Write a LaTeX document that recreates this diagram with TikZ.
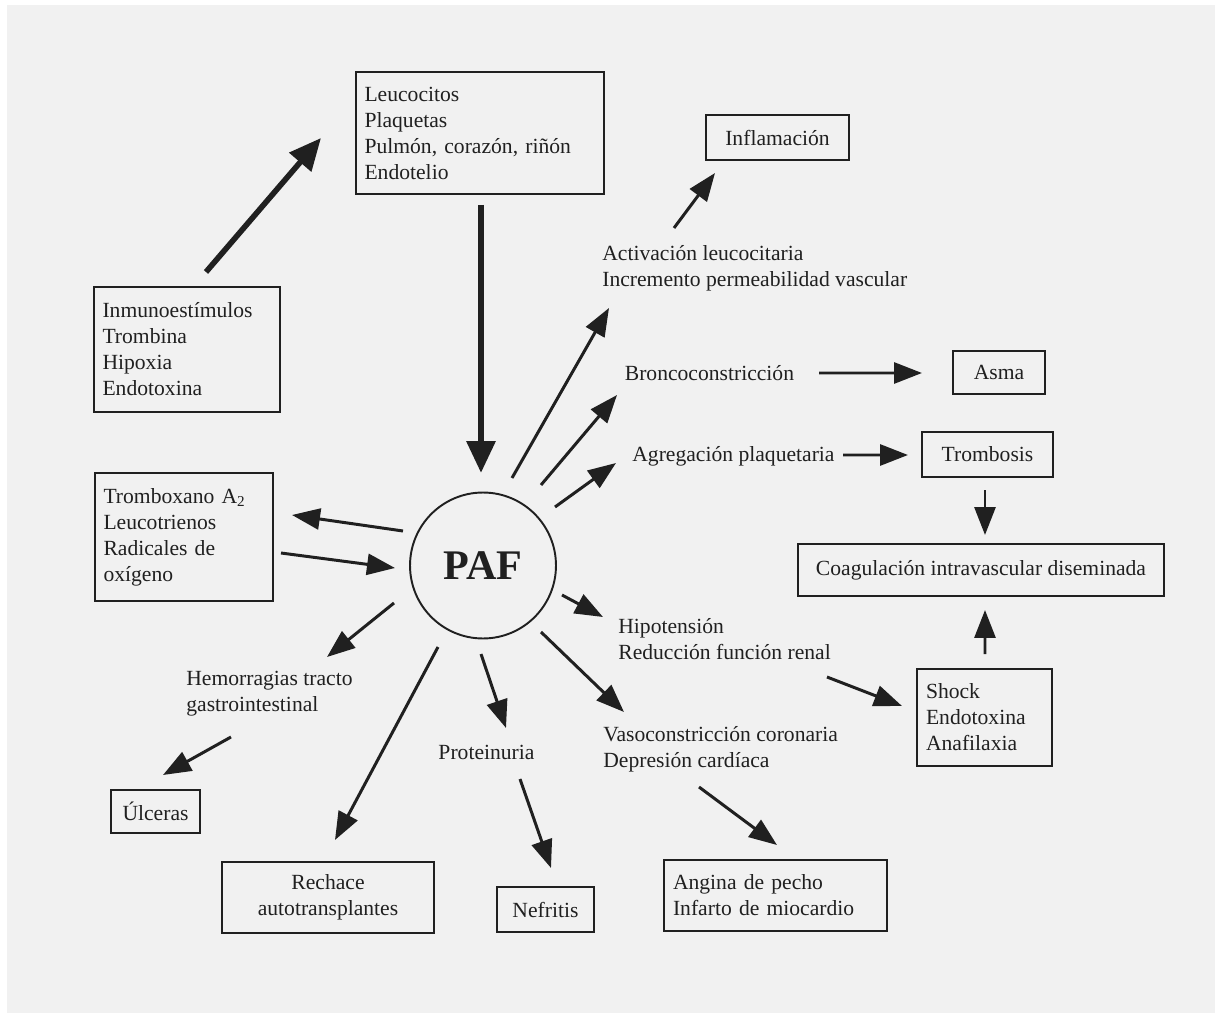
\documentclass[tikz,border=0pt]{standalone}
\usepackage{fontspec}
\setmainfont{Liberation Serif}
\usepackage{tikz}
\usetikzlibrary{arrows.meta}
\usetikzlibrary{calc}

\definecolor{paper}{RGB}{241,241,241}
\definecolor{ink}{RGB}{32,32,32}

\tikzset{
  box/.style={draw=ink,line width=1.1pt,inner xsep=0.17cm,inner ysep=0pt,align=left},
  lbl/.style={inner sep=0pt,align=left,anchor=west},
  arr/.style={draw=ink,line width=1.7pt,-{Triangle[length=0.56cm,width=0.42cm]}},
  bigarr/.style={draw=ink,line width=3.6pt,-{Triangle[length=0.64cm,width=0.56cm]}}
}

\begin{document}
\begin{tikzpicture}[x=0.02cm,y=-0.02cm,every node/.style={text=ink,font=\fontsize{12.3}{14.8}\selectfont}]
\useasboundingbox (0,0) rectangle (1215,1017);
\fill[white] (0,0) rectangle (1215,1017);
\fill[paper] (7,5) rectangle (1215,1013);

% Draw the nodes used for the picture
\node[box,minimum width=4.96cm,minimum height=2.44cm,text width=4.62cm](leuco) at (480,133){Leucocitos\\Plaquetas\\Pulmón, corazón, riñón\\Endotelio};
\node[box,minimum width=2.86cm,minimum height=0.9cm,align=center](inflam) at (777.5,137.5){Inflamación};
\node[box,minimum width=3.72cm,minimum height=2.5cm,text width=3.38cm](inmuno) at (187,349.5){Inmunoestímulos\\Trombina\\Hipoxia\\Endotoxina};
\node[box,minimum width=3.56cm,minimum height=2.56cm,text width=3.22cm](trombox) at (184,537){Tromboxano A\textsubscript{2}\\Leucotrienos\\Radicales de\\oxígeno};
\node[circle,draw=ink,line width=1.1pt,minimum size=2.92cm,inner sep=0pt,font=\fontsize{24}{28}\selectfont\bfseries](paf) at (483,565.5){PAF};
\node[lbl](activ) at (602,268.5){Activación leucocitaria\\Incremento permeabilidad vascular};
\node[lbl](bronco) at (624.5,373){Broncoconstricción};
\node[box,minimum width=1.84cm,minimum height=0.86cm,align=center](asma) at (999,372.5){Asma};
\node[lbl](agreg) at (632,456){Agregación plaquetaria};
\node[box,minimum width=2.62cm,minimum height=0.9cm,align=center](tromb) at (987.5,454.5){Trombosis};
\node[box,minimum width=7.32cm,minimum height=1.04cm,align=center](coag) at (981,570){Coagulación intravascular diseminada};
\node[lbl](hipo) at (618,639.5){Hipotensión\\Reducción función renal};
\node[box,minimum width=2.7cm,minimum height=1.94cm,text width=2.34cm](shock) at (984.5,717.5){Shock\\Endotoxina\\Anafilaxia};
\node[lbl](vaso) at (603,749){Vasoconstricción coronaria\\Depresión cardíaca};
\node[box,minimum width=4.46cm,minimum height=1.42cm,text width=4.1cm](angina) at (775.5,895.5){Angina de pecho\\Infarto de miocardio};
\node[inner sep=0pt](prot) at (486.5,752){Proteinuria};
\node[box,minimum width=1.94cm,minimum height=0.9cm,align=center](nefr) at (545.5,909.5){Nefritis};
\node[box,minimum width=4.24cm,minimum height=1.42cm,align=center](rech) at (328,897.5){Rechace\\autotransplantes};
\node[lbl](hemo) at (186,693.5){Hemorragias tracto\\gastrointestinal};
\node[box,minimum width=1.78cm,minimum height=0.86cm,align=center](ulc) at (155.5,811.5){Úlceras};

% Draw the arrows between the nodes
\draw[bigarr,line width=3.2pt] ($(inmuno)+(19,-77.5)$) -- ($(leuco)+(-159,5)$);
\draw[bigarr] ($(leuco)+(1,72)$) -- ($(paf)+(-2,-92.5)$);
\draw[arr] ($(activ.west)+(72,-40.5)$) -- ($(inflam)+(-62.5,35.5)$);
\draw[arr] ($(paf)+(29,-87.5)$) -- ($(activ.west)+(7,39.5)$);
\draw[arr] ($(paf)+(58,-80.5)$) -- ($(bronco.west)+(-7.5,22)$);
\draw[arr] ($(paf)+(72,-58.5)$) -- ($(agreg.west)+(-16,7)$);
\draw[arr] ($(bronco.west)+(194.5,0)$) -- ($(asma)+(-77,0.5)$);
\draw[arr] ($(agreg.west)+(211,-1)$) -- ($(tromb)+(-79.5,0.5)$);
\draw[arr] ($(tromb)+(-2.5,35.5)$) -- ($(coag)+(4,-35)$);
\draw[arr] ($(shock)+(0.5,-63.5)$) -- ($(coag)+(4,40)$);
\draw[arr] ($(paf)+(-80,-34.5)$) -- ($(trombox)+(108,-22)$);
\draw[arr] ($(trombox)+(97,16)$) -- ($(paf)+(-88,2.5)$);
\draw[arr] ($(paf)+(-89,37.5)$) -- ($(hemo.west)+(141,-36.5)$);
\draw[arr] ($(hemo.west)+(45,43.5)$) -- ($(ulc)+(7.5,-36.5)$);
\draw[arr] ($(paf)+(-45,81.5)$) -- ($(rech)+(7,-57.5)$);
\draw[arr] ($(paf)+(-2,88.5)$) -- ($(prot)+(19.5,-24)$);
\draw[arr] ($(prot)+(33.5,27)$) -- ($(nefr)+(5.5,-41.5)$);
\draw[arr] ($(paf)+(79,29.5)$) -- ($(hipo.west)+(-15,-22.5)$);
\draw[arr] ($(paf)+(58,66.5)$) -- ($(vaso.west)+(21,-37)$);
\draw[arr] ($(hipo.west)+(209,37.5)$) -- ($(shock)+(-82.5,-11.5)$);
\draw[arr] ($(vaso.west)+(96,38)$) -- ($(angina)+(1.5,-50.5)$);
\end{tikzpicture}
\end{document}
